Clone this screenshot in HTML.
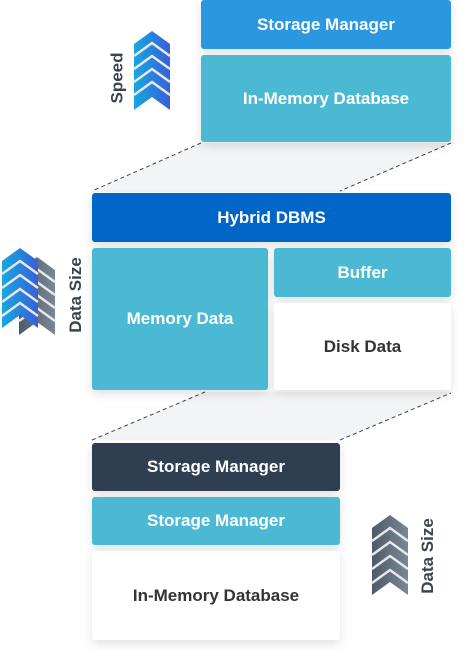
<!DOCTYPE html>
<html><head><style>
body{margin:0;width:467px;height:660px;background:#fff;font-family:"Liberation Sans",sans-serif;position:relative;overflow:hidden}
.b{position:absolute;display:flex;align-items:center;justify-content:center;font-weight:bold;font-size:17px;border-radius:3px;box-shadow:0 4px 10px rgba(0,0,0,0.12)}
.t{color:#fff}
.r{position:absolute;font-weight:bold;font-size:17px;color:#3a4350;transform:rotate(-90deg);white-space:nowrap}
</style></head><body>
<svg width="467" height="660" style="position:absolute;left:0;top:0">
<defs>
<linearGradient id="g1" x1="0" x2="1"><stop offset="0" stop-color="#16a8e0"/><stop offset="1" stop-color="#3a5fd8"/></linearGradient>
<linearGradient id="g2" x1="0" x2="1"><stop offset="0" stop-color="#4e5a68"/><stop offset="1" stop-color="#7a8896"/></linearGradient>
</defs>
<polygon points="201,143 451,143 340,192 92,192" fill="#f3f4f6"/>
<polygon points="92,440 340,440 451,392 205,392" fill="#f3f4f6"/>
<g stroke="#444" stroke-dasharray="4,3" stroke-width="1">
<line x1="201" y1="143" x2="92" y2="191"/><line x1="451" y1="143" x2="340" y2="191"/>
<line x1="92" y1="440" x2="205" y2="392"/><line x1="340" y1="440" x2="451" y2="393"/>
</g>
<polygon points="152,31 170,44 170,110 152,97 134,110 134,44" fill="url(#g1)"/>
<g fill="none" stroke="#e8e8e8" stroke-width="2.5">
<polyline points="134,56 152,43 170,56"/><polyline points="134,69 152,56 170,69"/><polyline points="134,82 152,69 170,82"/><polyline points="134,95 152,82 170,95"/></g>
<polygon points="37,257 55,270 55,335 37,322 19,335 19,270" fill="url(#g2)"/>
<g fill="none" stroke="#e8e8e8" stroke-width="2.5">
<polyline points="19,282 37,269 55,282"/><polyline points="19,295 37,282 55,295"/><polyline points="19,308 37,295 55,308"/><polyline points="19,321 37,308 55,321"/></g>
<polygon points="20,248 38,261 38,328 20,315 2,328 2,261" fill="url(#g1)"/>
<g fill="none" stroke="#e8e8e8" stroke-width="2.5">
<polyline points="2,274 20,261 38,274"/><polyline points="2,288 20,275 38,288"/><polyline points="2,302 20,289 38,302"/><polyline points="2,316 20,303 38,316"/></g>
<polygon points="390,515 408,528 408,595 390,582 372,595 372,528" fill="url(#g2)"/>
<g fill="none" stroke="#e8e8e8" stroke-width="2.5">
<polyline points="372,541 390,528 408,541"/><polyline points="372,555 390,542 408,555"/><polyline points="372,569 390,556 408,569"/><polyline points="372,583 390,570 408,583"/></g>
</svg>
<div class="r" style="left:92px;top:68px">Speed</div>
<div class="r" style="left:38px;top:285px">Data Size</div>
<div class="r" style="left:390px;top:546px">Data Size</div>
<div class="b t" style="left:201px;top:0;width:250px;height:49px;background:#2c97e1">Storage Manager</div>
<div class="b t" style="left:201px;top:55px;width:250px;height:87px;background:#4bb9d4">In-Memory Database</div>
<div class="b t" style="left:92px;top:193px;width:359px;height:49px;background:#0066c7">Hybrid DBMS</div>
<div class="b t" style="left:92px;top:248px;width:176px;height:142px;background:#4bb9d4">Memory Data</div>
<div class="b t" style="left:274px;top:248px;width:177px;height:49px;background:#4bb9d4">Buffer</div>
<div class="b" style="left:274px;top:303px;width:177px;height:87px;background:#fff;color:#333">Disk Data</div>
<div class="b t" style="left:92px;top:443px;width:248px;height:48px;background:#2f3e50">Storage Manager</div>
<div class="b t" style="left:92px;top:497px;width:248px;height:48px;background:#4bb9d4">Storage Manager</div>
<div class="b" style="left:92px;top:551px;width:248px;height:89px;background:#fff;color:#333">In-Memory Database</div>
</body></html>
